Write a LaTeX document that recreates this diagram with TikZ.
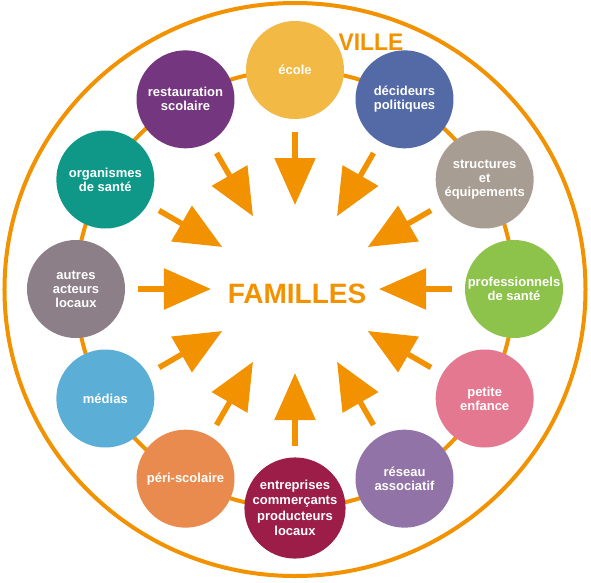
\documentclass[tikz,border=0pt]{standalone}
\usepackage{fontspec}
\setmainfont{Liberation Sans}
\usetikzlibrary{arrows.meta, positioning}
\definecolor{vlorange}{HTML}{F39200}
\definecolor{cecole}{HTML}{F2B945}
\definecolor{cdecideurs}{HTML}{546AA6}
\definecolor{cstructures}{HTML}{A89D92}
\definecolor{cpros}{HTML}{8DC24B}
\definecolor{cpetite}{HTML}{E47891}
\definecolor{creseau}{HTML}{9273A8}
\definecolor{centreprises}{HTML}{9C1E48}
\definecolor{cperi}{HTML}{E98B4E}
\definecolor{cmedias}{HTML}{5BAED6}
\definecolor{cautres}{HTML}{8D7F87}
\definecolor{corganismes}{HTML}{0F9888}
\definecolor{crestauration}{HTML}{74367F}

\begin{document}
\begin{tikzpicture}[
    x=1pt, y=1pt,
    partner/.style={
        circle, fill=#1, minimum size=98pt, inner sep=0pt,
        align=center, text=white,
        font=\bfseries\fontsize{13}{14}\selectfont
    },
    ring/.style={draw=vlorange, line width=4pt},
    bigarrow/.style={
        draw=vlorange, line width=5.5pt,
        -{Triangle[length=47pt, width=40pt]}
    },
    hubtitle/.style={font=\bfseries\fontsize{28}{30}\selectfont, text=vlorange},
    citytitle/.style={font=\bfseries\fontsize{24}{26}\selectfont, text=vlorange, xscale=0.95},
]

\useasboundingbox (-295,289) rectangle (296,-293);

% ===================================================================
% OUTER LINE AND RING
% ===================================================================
\draw[ring] (0,-0.5) ellipse [x radius=290.5, y radius=286.5];

% Ring joining the partners
\draw[ring] (0,0) circle (219);

% ===================================================================
% PARTNERS
% ===================================================================
\node[partner=cecole]        (ecole)         at (90:219)  {école};
\node[partner=cdecideurs]    (decideurs)     at (60:219)  {décideurs\\politiques};
\node[partner=cstructures]   (structures)    at (30:219)  {structures\\et\\équipements};
\node[partner=cpros]         (professionnels) at (0:219)  {professionnels\\de santé};
\node[partner=cpetite]       (petite)        at (-30:219) {petite\\enfance};
\node[partner=creseau]       (reseau)        at (-60:219) {réseau\\associatif};
\node[partner=centreprises, font=\bfseries\fontsize{13}{15.5}\selectfont]
    (entreprises) at (-90:219)
    {entreprises\\commerçants\\producteurs\\locaux};
\node[partner=cperi]         (periscolaire)  at (-120:219) {péri-scolaire};
\node[partner=cmedias]       (medias)        at (-150:219) {médias};
\node[partner=cautres]       (autres)        at (180:219)  {autres\\acteurs\\locaux};
\node[partner=corganismes]   (organismes)    at (150:219)  {organismes\\de santé};
\node[partner=crestauration] (restauration)  at (120:219)  {restauration\\scolaire};

% City label, over the école circle edge
\node[citytitle] (ville) at (76,247) {VILLE};

% ===================================================================
% CENTRE — FAMILLES
% ===================================================================
\node[hubtitle] (familles) at (2,-5) {FAMILLES};

% Arrows towards the families
\foreach \a in {0,30,...,330} {
    \coordinate (tail-\a) at (\a:157);
    \coordinate (tip-\a) at (\a:84);
    \draw[bigarrow] (tail-\a) -- (tip-\a);
}

\end{tikzpicture}
\end{document}
